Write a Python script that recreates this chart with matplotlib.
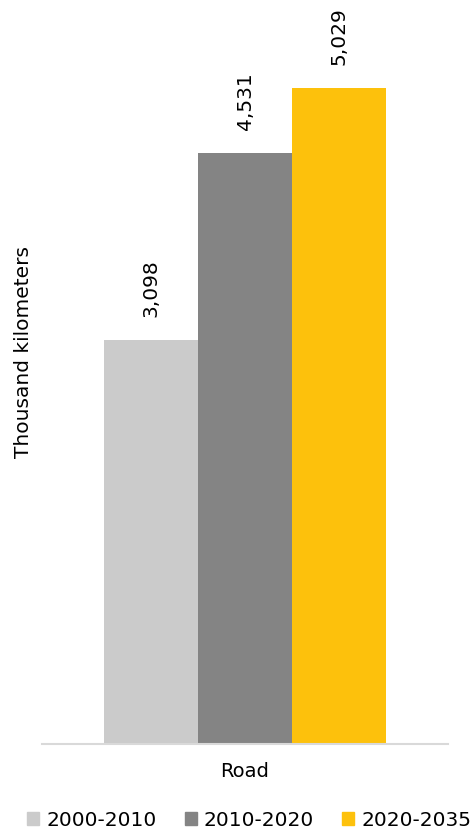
import matplotlib.pyplot as plt
from matplotlib.patches import Patch

# data
category = "Road"
periods = ["2000-2010", "2010-2020", "2020-2035"]
values = [3098, 4531, 5029]
colors = ["#CBCBCB", "#848484", "#FDC10C"]

plt.rcParams['font.family'] = ['DejaVu Sans']

fig = plt.figure(figsize=(4.75, 8.33), dpi=100)
ax = fig.add_axes([42/475, 89/833, 406/475, 744/833])

width = 94/406
for i, (p, v, c) in enumerate(zip(periods, values, colors)):
    x = (i - 1) * width
    ax.bar(x, v, width=width, color=c, label=p)
    ax.text(x, v + 170, f"{v:,}", rotation=90, ha='center', va='bottom', fontsize=14.5)

ax.set_xlim(-0.5, 0.5)
ax.set_ylim(0, 5700)
ax.set_xticks([0])
ax.set_xticklabels([category], fontsize=14)
ax.tick_params(axis='x', length=0, pad=13)
ax.set_yticks([])
ax.set_ylabel("Thousand kilometers", fontsize=14.5)
ax.yaxis.set_label_coords(-0.022, 0.527)

for s in ['top', 'right', 'left']:
    ax.spines[s].set_visible(False)
ax.spines['bottom'].set_color('#D9D9D9')
ax.spines['bottom'].set_linewidth(1.5)

handles = [Patch(color=c, label=p) for p, c in zip(periods, colors)]
fig.legend(handles=handles, loc='lower center', bbox_to_anchor=(0.525, -0.018), ncol=3,
           frameon=False, fontsize=14.5, handlelength=0.6, handleheight=0.6,
           handletextpad=0.35, columnspacing=1.4)

fig.savefig("out.png", dpi=100)
